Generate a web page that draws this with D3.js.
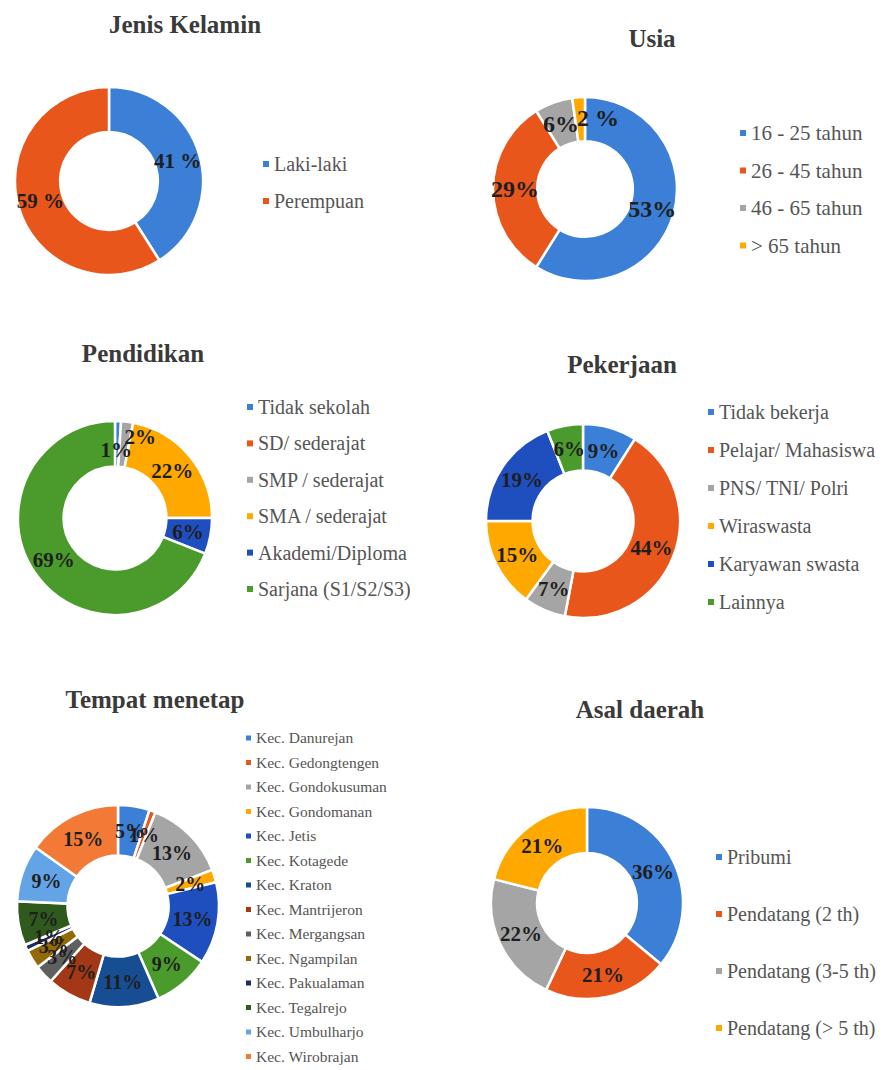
<!DOCTYPE html>
<html>
<head>
<meta charset="utf-8">
<script src="https://cdn.jsdelivr.net/npm/d3@7"></script>
<style>
  body { margin: 0; background: #fff; }
  svg text { font-family: "Liberation Serif", "Times New Roman", serif; }
</style>
</head>
<body>
<div id="viz"></div>
<script>
// --- data ---
const genderCategories = ["Laki-laki", "Perempuan"];
const genderValues = [41, 59];
const genderLabels = ["41 %", "59 %"];

const ageCategories = ["16 - 25 tahun", "26 - 45 tahun", "46 - 65 tahun", "> 65 tahun"];
const ageValues = [53, 29, 6, 2];
const ageLabels = ["53%", "29%", "6%", "2 %"];

const eduCategories = ["Tidak sekolah", "SD/ sederajat", "SMP / sederajat", "SMA / sederajat", "Akademi/Diploma", "Sarjana (S1/S2/S3)"];
const eduValues = [1, 0, 2, 22, 6, 69];

const jobCategories = ["Tidak bekerja", "Pelajar/ Mahasiswa", "PNS/ TNI/ Polri", "Wiraswasta", "Karyawan swasta", "Lainnya"];
const jobValues = [9, 44, 7, 15, 19, 6];

const districtCategories = ["Kec. Danurejan", "Kec. Gedongtengen", "Kec. Gondokusuman", "Kec. Gondomanan", "Kec. Jetis", "Kec. Kotagede", "Kec. Kraton", "Kec. Mantrijeron", "Kec. Mergangsan", "Kec. Ngampilan", "Kec. Pakualaman", "Kec. Tegalrejo", "Kec. Umbulharjo", "Kec. Wirobrajan"];
const districtValues = [5, 1, 13, 2, 13, 9, 11, 7, 3, 3, 1, 7, 9, 15];

const originCategories = ["Pribumi", "Pendatang (2 th)", "Pendatang (3-5 th)", "Pendatang (> 5 th)"];
const originValues = [36, 21, 22, 21];

// office-like palette, a bit saturated like the scan
const basePalette = ["#3b7fd6", "#e8561c", "#a5a5a5", "#ffa800", "#1f4fbf", "#4a9b2c"];
const districtPalette = ["#3b7fd6", "#e8561c", "#a5a5a5", "#ffa800", "#1f4fbf", "#4a9b2c",
  "#174d92", "#a23816", "#5f5f5f", "#936a0a", "#1b2c66", "#2f5a1d", "#62a4e6", "#f27a36"];

const svg = d3.select("#viz")
  .append("svg")
  .attr("width", 890)
  .attr("height", 1070)
  .style("background", "#fff");

function buildDonut(cfg) {
  const g = svg.append("g");
  const color = d3.scaleOrdinal().domain(cfg.categories).range(cfg.palette);

  g.append("text")
    .attr("x", cfg.titleX).attr("y", cfg.titleY)
    .attr("text-anchor", "middle")
    .attr("font-weight", "bold")
    .attr("font-size", cfg.titleSize || 25)
    .attr("fill", "#3a3a3a")
    .text(cfg.title);

  const rows = cfg.categories.map((c, i) => ({ cat: c, value: cfg.values[i], label: cfg.labels ? cfg.labels[i] : cfg.values[i] + "%" }));

  const pie = d3.pie().sort(null).value(d => d.value);
  const arc = d3.arc().innerRadius(cfg.r * cfg.hole).outerRadius(cfg.r);
  const mid = d3.arc().innerRadius(cfg.r * (1 + cfg.hole) / 2).outerRadius(cfg.r * (1 + cfg.hole) / 2);

  const chart = g.append("g").attr("transform", `translate(${cfg.cx},${cfg.cy})`);
  const arcs = pie(rows);

  chart.selectAll("path").data(arcs.filter(d => d.data.value > 0))
    .enter().append("path")
    .attr("d", arc)
    .attr("fill", d => color(d.data.cat))
    .attr("stroke", "#fff")
    .attr("stroke-width", 2.5)
    .attr("stroke-linejoin", "miter");

  chart.selectAll("text.lbl").data(arcs.filter(d => d.data.value > 0))
    .enter().append("text")
    .attr("class", "lbl")
    .attr("transform", d => {
      const c = mid.centroid(d);
      const off = (cfg.labelShift && cfg.labelShift[d.index]) || [0, 0];
      return `translate(${c[0] + off[0]},${c[1] + off[1]})`;
    })
    .attr("text-anchor", "middle")
    .attr("dy", "0.35em")
    .attr("font-weight", "bold")
    .attr("font-size", cfg.labelSize || 21)
    .attr("fill", "#1e1e1e")
    .text(d => d.data.label);

  const legend = g.append("g")
    .attr("transform", `translate(${cfg.legendX},${cfg.legendY})`)
    .selectAll("g").data(cfg.categories)
    .enter().append("g")
    .attr("transform", (d, i) => `translate(0,${i * cfg.legendStep})`);

  const sq = cfg.squareSize || 6;
  legend.append("rect")
    .attr("x", 0).attr("y", -sq / 2)
    .attr("width", sq).attr("height", sq)
    .attr("fill", d => color(d));

  legend.append("text")
    .attr("x", sq + 5)
    .attr("dy", "0.35em")
    .attr("font-size", cfg.legendSize || 20)
    .attr("fill", "#555")
    .text(d => d);
}

buildDonut({
  title: "Jenis Kelamin", titleX: 185, titleY: 33,
  categories: genderCategories, values: genderValues, labels: genderLabels,
  palette: basePalette, cx: 109, cy: 181, r: 94, hole: 0.52,
  legendX: 263, legendY: 164, legendStep: 37
});

buildDonut({
  title: "Usia", titleX: 652, titleY: 47,
  categories: ageCategories, values: ageValues, labels: ageLabels,
  palette: basePalette, cx: 585, cy: 189, r: 92, hole: 0.52,
  labelSize: 24, labelShift: { 3: [18, -2] },
  legendX: 740, legendY: 133, legendStep: 37.5, legendSize: 21
});

buildDonut({
  title: "Pendidikan", titleX: 143, titleY: 362,
  categories: eduCategories, values: eduValues,
  palette: basePalette, cx: 115, cy: 518, r: 97, hole: 0.53,
  labelShift: { 0: [-1, 6], 2: [16, -8] },
  legendX: 247, legendY: 407, legendStep: 36.4
});

buildDonut({
  title: "Pekerjaan", titleX: 622, titleY: 373,
  categories: jobCategories, values: jobValues,
  palette: basePalette, cx: 583, cy: 521, r: 97, hole: 0.52,
  legendX: 708, legendY: 412, legendStep: 38
});

buildDonut({
  title: "Tempat menetap", titleX: 155, titleY: 708,
  categories: districtCategories, values: districtValues,
  palette: districtPalette, cx: 118, cy: 906, r: 101, hole: 0.5,
  labelSize: 20,
  legendX: 246, legendY: 738, legendStep: 24.5, legendSize: 15.5, squareSize: 5
});

buildDonut({
  title: "Asal daerah", titleX: 640, titleY: 718,
  categories: originCategories, values: originValues,
  palette: basePalette, cx: 587, cy: 903, r: 96, hole: 0.52,
  legendX: 716, legendY: 857, legendStep: 57
});
</script>
</body>
</html>
